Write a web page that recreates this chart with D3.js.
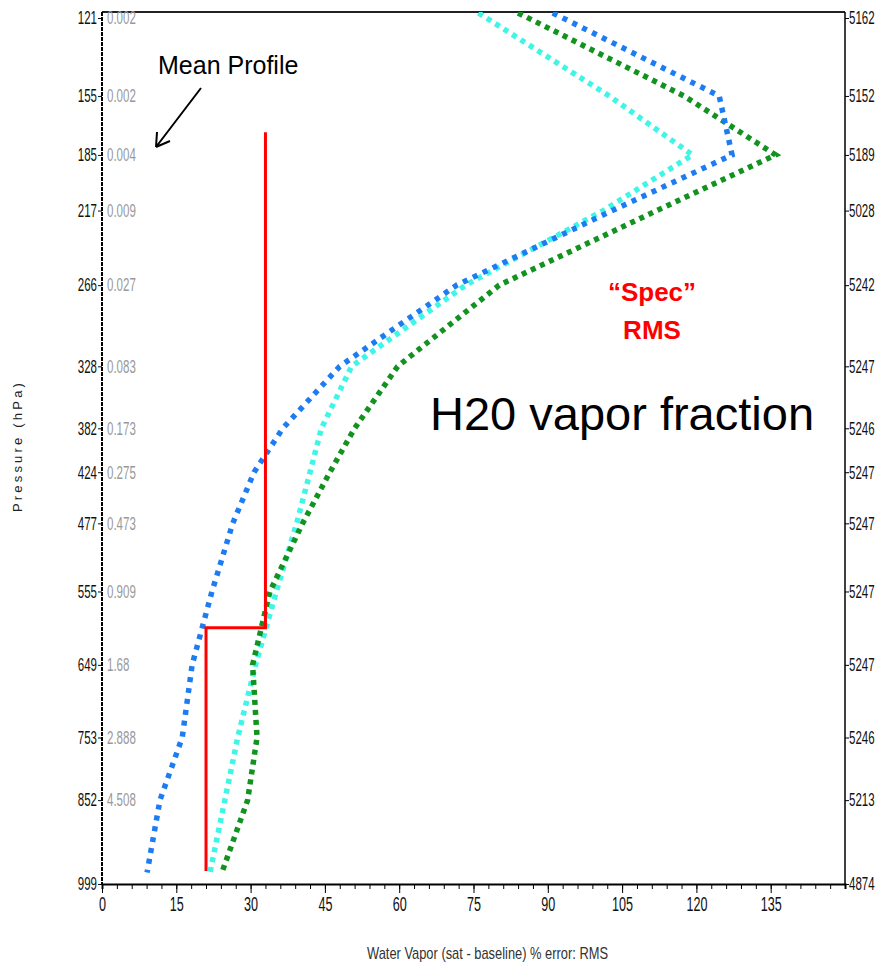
<!DOCTYPE html>
<html>
<head>
<meta charset="utf-8">
<script src="https://cdn.jsdelivr.net/npm/d3@7"></script>
<style>
  body { margin: 0; background: #fff; }
  svg { display: block; }
</style>
</head>
<body>
<script>
// pressure levels shown on the left axis (hPa)
var levels = [121, 155, 185, 217, 266, 328, 382, 424, 477, 555, 649, 753, 852, 999];
// grey mean profile numbers next to the pressure labels
var meanProfile = ["0.002", "0.002", "0.004", "0.009", "0.027", "0.083", "0.173", "0.275",
                   "0.473", "0.909", "1.68", "2.888", "4.508"];
// labels on the right hand axis
var rightLabels = ["5162", "5152", "5189", "5028", "5242", "5247", "5246", "5247",
                   "5247", "5247", "5247", "5246", "5213", "4874"];

// pressures where the error curves are sampled
var curvePressure = [119, 155, 185, 217, 266, 328, 382, 424, 477, 555, 649, 753, 852, 978];
var blueRms  = [91, 124.6, 127.2, 103, 71.6, 48, 36.5, 30.7, 26.4, 22.2, 18.2, 16.2, 11.7, 9.1];
var cyanRms  = [76, 102.4, 119.2, 101.2, 73.4, 50.4, 44.3, 42, 39.3, 35.2, 31, 27.4, 24.8, 21.8];
var greenRms = [84, 117.5, 136, 112, 80.2, 59.7, 51, 46, 40.5, 33.9, 30.4, 31.3, 29.4, 24.2];

// "spec" requirement step line
var specPressure = [173, 600, 600, 975];
var specRms = [33, 33, 21, 21];

var xTicks = [0, 15, 30, 45, 60, 75, 90, 105, 120, 135];

var W = 881, H = 964;
var plotLeft = 102, plotRight = 845, plotTop = 12, plotBottom = 884;
var sans = "'Liberation Sans', Arial, sans-serif";
var squeeze = 0.64;   // the tick labels use a tall narrow face

var svg = d3.select("body").append("svg")
    .attr("width", W)
    .attr("height", H);

var x = d3.scaleLinear().domain([0, 150]).range([plotLeft, plotRight]);
var y = d3.scalePow().exponent(0.27).domain([121, 999]).range([18, plotBottom]);

svg.append("defs").append("clipPath").attr("id", "plot")
  .append("rect")
    .attr("x", plotLeft).attr("y", plotTop)
    .attr("width", plotRight - plotLeft).attr("height", plotBottom - plotTop);

// top line of the frame
svg.append("line")
    .attr("x1", plotLeft).attr("x2", plotRight).attr("y1", plotTop).attr("y2", plotTop)
    .attr("stroke", "#222").attr("stroke-width", 2);

function narrowText(sel, size, color) {
  sel.attr("font-family", sans)
     .attr("font-size", size)
     .attr("fill", color);
}

// left axis
var gl = svg.append("g")
    .attr("transform", "translate(" + plotLeft + ",0)")
    .call(d3.axisLeft(y).tickValues(levels).tickSize(4).tickFormat(d3.format("d")));
gl.select(".domain").remove();
gl.selectAll("line").attr("stroke", "#111");
gl.selectAll("text")
    .call(narrowText, 18, "#111")
    .attr("x", -5 / squeeze)
    .attr("transform", "scale(" + squeeze + ",1)");
svg.append("line")
    .attr("x1", plotLeft).attr("x2", plotLeft).attr("y1", plotTop).attr("y2", plotBottom)
    .attr("stroke", "#000").attr("stroke-width", 2)
    .attr("stroke-dasharray", "4,1");

// grey mean profile values
svg.append("g").selectAll("text")
    .data(meanProfile)
  .enter().append("text")
    .attr("transform", function(d, i) {
      return "translate(" + (plotLeft + 5) + "," + y(levels[i]) + ") scale(" + squeeze + ",1)";
    })
    .attr("dy", "0.35em")
    .call(narrowText, 18, "#999")
    .text(function(d) { return d; });

// right axis
var gr = svg.append("g")
    .attr("transform", "translate(" + plotRight + ",0)")
    .call(d3.axisRight(y).tickValues(levels).tickSize(4)
      .tickFormat(function(d, i) { return rightLabels[i]; }));
gr.select(".domain").remove();
gr.selectAll("text")
    .call(narrowText, 18, "#111")
    .attr("x", 4 / squeeze)
    .attr("transform", "scale(" + squeeze + ",1)");
svg.append("line")
    .attr("x1", plotRight).attr("x2", plotRight).attr("y1", plotTop).attr("y2", plotBottom)
    .attr("stroke", "#000").attr("stroke-width", 1.5);

// bottom axis, minor ticks every 3 then labelled major ticks
var gm = svg.append("g")
    .attr("transform", "translate(0," + plotBottom + ")")
    .call(d3.axisBottom(x).tickValues(d3.range(0, 151, 3)).tickSize(5).tickFormat(""));
gm.select(".domain").attr("stroke-width", 2);
var gb = svg.append("g")
    .attr("transform", "translate(0," + plotBottom + ")")
    .call(d3.axisBottom(x).tickValues(xTicks).tickSize(9).tickPadding(3));
gb.select(".domain").remove();
gb.selectAll("text")
    .call(narrowText, 21, "#111")
    .attr("transform", "scale(0.6,1)");

// curves
var line = d3.line()
    .x(function(d) { return x(d[0]); })
    .y(function(d) { return y(d[1]); });

var curves = svg.append("g").attr("clip-path", "url(#plot)");

function addCurve(vals, pres, color, dash, width) {
  curves.append("path")
      .datum(vals.map(function(v, i) { return [v, pres[i]]; }))
      .attr("d", line)
      .attr("fill", "none")
      .attr("stroke", color)
      .attr("stroke-width", width)
      .attr("stroke-dasharray", dash);
}
addCurve(cyanRms, curvePressure, "#3ff5e6", "5,5", 5.5);
addCurve(greenRms, curvePressure, "#12921e", "5,5", 5.5);
addCurve(blueRms, curvePressure, "#1e7cf2", "5,6", 5.5);
addCurve(specRms, specPressure, "#ff0000", null, 3);

// axis titles
svg.append("text")
    .attr("transform", "translate(22," + 446 + ") rotate(-90)")
    .attr("text-anchor", "middle")
    .attr("font-family", sans)
    .attr("font-size", 13)
    .attr("letter-spacing", 3.2)
    .attr("fill", "#222")
    .text("Pressure (hPa)");

svg.append("text")
    .attr("x", 367).attr("y", 959)
    .attr("font-family", sans)
    .attr("font-size", 17)
    .attr("textLength", 241)
    .attr("lengthAdjust", "spacingAndGlyphs")
    .attr("fill", "#333")
    .text("Water Vapor (sat - baseline) % error: RMS");

// annotations
svg.append("text")
    .attr("x", 158).attr("y", 74)
    .attr("font-family", sans)
    .attr("font-size", 25)
    .attr("fill", "#000")
    .text("Mean Profile");

svg.append("path")
    .attr("d", "M201,88 L156,147 M156,147 L157,132 M156,147 L170,141")
    .attr("fill", "none")
    .attr("stroke", "#000")
    .attr("stroke-width", 2);

svg.append("text")
    .attr("x", 652).attr("y", 301)
    .attr("text-anchor", "middle")
    .attr("font-family", sans)
    .attr("font-weight", "bold")
    .attr("font-size", 26)
    .attr("fill", "#ff0000")
    .text("\u201cSpec\u201d");
svg.append("text")
    .attr("x", 652).attr("y", 339)
    .attr("text-anchor", "middle")
    .attr("font-family", sans)
    .attr("font-weight", "bold")
    .attr("font-size", 26)
    .attr("fill", "#ff0000")
    .text("RMS");

svg.append("text")
    .attr("x", 430).attr("y", 430)
    .attr("font-family", sans)
    .attr("font-size", 47)
    .attr("fill", "#000")
    .text("H20 vapor fraction");
</script>
</body>
</html>
